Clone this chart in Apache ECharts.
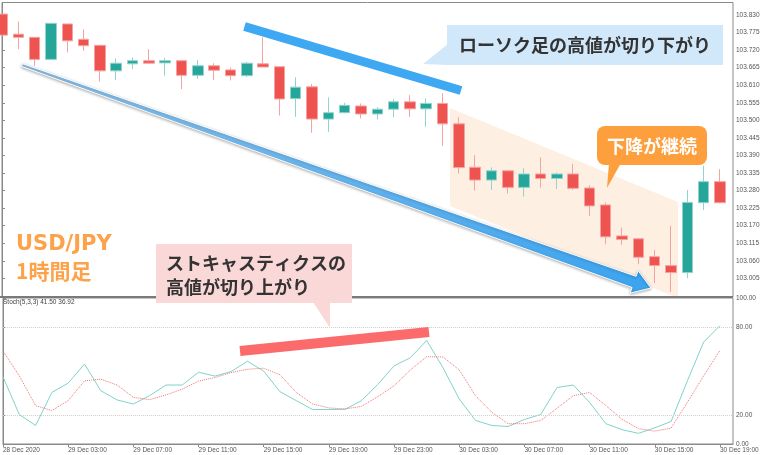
<!DOCTYPE html>
<html>
<head>
<meta charset="utf-8">
<script src="https://cdn.jsdelivr.net/npm/echarts@6/dist/echarts.min.js"></script>
<style>
  html, body { margin: 0; padding: 0; background: #fff; }
  #chart { width: 768px; height: 455px; }
</style>
</head>
<body>
<div id="chart"></div>
<script>
// USD/JPY 1時間足  28 Dec 23:00 〜 30 Dec 19:00
var opens = [103.833,103.770,103.760,103.691,103.802,103.754,103.735,103.655,103.677,103.687,
  103.680,103.687,103.641,103.671,103.658,103.640,103.677,103.668,103.568,103.605,
  103.504,103.524,103.545,103.520,103.535,103.558,103.536,103.553,103.489,103.353,
  103.313,103.342,103.290,103.332,103.318,103.332,103.288,103.235,103.138,103.129,
  103.073,103.045,103.023,103.242,103.308];
var closes = [103.767,103.760,103.691,103.804,103.749,103.734,103.655,103.679,103.687,103.679,
  103.687,103.641,103.671,103.657,103.640,103.679,103.667,103.567,103.604,103.504,
  103.524,103.547,103.520,103.535,103.558,103.536,103.553,103.489,103.352,103.313,
  103.342,103.290,103.332,103.318,103.332,103.287,103.232,103.135,103.127,103.071,
  103.045,103.023,103.243,103.308,103.242];
var lows = [103.767,103.723,103.671,103.691,103.713,103.718,103.621,103.626,103.661,103.679,
  103.640,103.598,103.630,103.626,103.625,103.635,103.667,103.515,103.511,103.461,
  103.464,103.522,103.506,103.503,103.510,103.511,103.480,103.420,103.334,103.280,
  103.282,103.271,103.261,103.289,103.285,103.282,103.201,103.112,103.110,103.049,
  102.990,102.962,103.005,103.219,103.240];
var highs = [103.833,103.810,103.760,103.804,103.802,103.785,103.737,103.694,103.697,103.723,
  103.696,103.687,103.689,103.679,103.666,103.683,103.760,103.668,103.635,103.614,
  103.572,103.555,103.553,103.541,103.567,103.579,103.569,103.585,103.510,103.391,
  103.353,103.342,103.350,103.384,103.337,103.363,103.297,103.243,103.164,103.132,
  103.094,103.170,103.282,103.358,103.347];

// Stoch(5,3,3)
var stochK = [46.0,20.2,12.7,35.3,41.7,54.8,36.5,30.2,27.4,33.1,
  40.4,40.4,49.2,46.5,49.6,56.7,49.9,35.8,29.7,23.6,
  23.6,23.8,29.7,40.8,53.5,59.1,70.9,52.3,30.8,16.1,
  12.7,12.0,16.8,20.2,38.7,40.4,28.5,13.9,9.8,7.3,
  11.1,15.4,43.3,69.8,81.1];
var stochD = [63.7,46.7,26.3,22.9,29.7,43.3,44.4,40.4,31.9,30.4,
  33.6,37.6,43.1,45.5,48.9,51.2,51.9,47.4,35.3,27.4,
  24.7,24.0,25.8,32.4,39.9,50.7,59.8,59.6,50.7,33.1,
  21.7,13.9,13.9,16.1,24.5,33.1,35.3,26.3,16.8,10.5,
  8.8,10.9,28.5,46.7,64.1];

var timeLabels = ['28 Dec 2020','29 Dec 03:00','29 Dec 07:00','29 Dec 11:00','29 Dec 15:00','29 Dec 19:00',
  '29 Dec 23:00','30 Dec 03:00','30 Dec 07:00','30 Dec 11:00','30 Dec 15:00','30 Dec 19:00'];
var timeTicks = [0,4,8,12,16,20,24,28,32,36,40,44];
var priceTicks = [103.830,103.775,103.720,103.665,103.610,103.555,103.500,103.445,103.390,
  103.335,103.280,103.225,103.170,103.115,103.060,103.005];
var stochTicks = [100,80,20,0];
var stochLevels = [80,20];

var candles = opens.map(function (o, i) { return [i, o, closes[i], lows[i], highs[i]]; });
var kLine = stochK.map(function (v, i) { return [i, v]; });
var dLine = stochD.map(function (v, i) { return [i, v]; });

var axisFont = { fontFamily: 'Liberation Sans', fontSize: 6.5, color: '#555' };
var jp = '"Noto Sans CJK JP", sans-serif';

var chart = echarts.init(document.getElementById('chart'));
chart.setOption({
  animation: false,
  backgroundColor: '#fff',
  grid: [
    { left: 2, right: 35, top: 2.5, bottom: 158, show: true, borderColor: '#8a8a8a', borderWidth: 1 },
    { left: 2, right: 35, top: 298, bottom: 11, show: true, borderColor: '#8a8a8a', borderWidth: 1 }
  ],
  xAxis: [
    { gridIndex: 0, type: 'value', min: 0, max: 44.8,
      axisLine: { show: false }, axisTick: { show: false }, axisLabel: { show: false }, splitLine: { show: false } },
    { gridIndex: 1, type: 'value', min: 0, max: 44.8,
      axisLine: { show: true, lineStyle: { color: '#8a8a8a' } },
      axisTick: { show: true, length: 3, customValues: timeTicks, lineStyle: { color: '#8a8a8a' } },
      axisLabel: Object.assign({ customValues: timeTicks, align: 'left', margin: 3,
        formatter: function (v) { return timeLabels[timeTicks.indexOf(v)] || ''; } }, axisFont),
      splitLine: { show: false } }
  ],
  yAxis: [
    { gridIndex: 0, type: 'value', position: 'right', min: 102.9466, max: 103.8692, scale: true,
      axisLine: { show: true, lineStyle: { color: '#8a8a8a' } },
      axisTick: { show: true, length: 3, customValues: priceTicks, lineStyle: { color: '#8a8a8a' } },
      axisLabel: Object.assign({ customValues: priceTicks, margin: 3,
        formatter: function (v) { return v.toFixed(3); } }, axisFont),
      splitLine: { show: false } },
    { gridIndex: 1, type: 'value', position: 'right', min: 0, max: 100,
      axisLine: { show: true, lineStyle: { color: '#8a8a8a' } },
      axisTick: { show: true, length: 3, customValues: stochTicks, lineStyle: { color: '#8a8a8a' } },
      axisLabel: Object.assign({ customValues: stochTicks, margin: 3,
        formatter: function (v) { return v.toFixed(2); } }, axisFont),
      splitLine: { show: false } }
  ],
  series: [
    { type: 'candlestick', xAxisIndex: 0, yAxisIndex: 0, data: candles, barWidth: 11,
      encode: { x: 0, y: [1, 2, 3, 4] },
      itemStyle: { color: '#26a69a', color0: '#ef5350', borderColor: '#92d4cd', borderColor0: '#f5a3a2', borderWidth: 1 } },
    { type: 'line', xAxisIndex: 1, yAxisIndex: 1, data: kLine, symbol: 'none',
      lineStyle: { color: '#7fd3cb', width: 1 },
      markLine: { silent: true, symbol: 'none', label: { show: false },
        lineStyle: { color: '#d0d0d0', type: 'dotted', width: 1 },
        data: stochLevels.map(function (v) { return { yAxis: v }; }) } },
    { type: 'line', xAxisIndex: 1, yAxisIndex: 1, data: dLine, symbol: 'none',
      lineStyle: { color: '#f47272', width: 1, type: 'dotted' } }
  ],
  graphic: [
    // 下降チャネル
    { type: 'polygon', z: 0, silent: true,
      shape: { points: [[450,108],[678,202],[678,298],[450,206]] },
      style: { fill: '#fdefe2' } },
    { type: 'line', z: 50, shape: { x1: 0, y1: 297, x2: 733, y2: 297 },
      style: { stroke: '#7a7a7a', lineWidth: 2 } },
    { type: 'text', z: 50, left: 3, top: 299,
      style: { text: 'Stoch(5,3,3) 41.50 36.92', font: '6.5px "Liberation Sans"', fill: '#444' } },
    // 高値切り下がりライン
    { type: 'line', z: 60, shape: { x1: 244.5, y1: 26.5, x2: 461, y2: 90.5 },
      style: { stroke: '#3fa8f3', lineWidth: 9 } },
    // 下降矢印
    { type: 'polygon', z: 60,
      shape: { points: [[22.5,63.6],[636.1,276.3],[638.1,270.6],[651,288],[630.1,293.2],[632.1,287.5],[21.5,66.4]] },
      style: { fill: new echarts.graphic.LinearGradient(0, 0, 1, 0, [
          { offset: 0, color: '#8fc3ea' }, { offset: 1, color: '#3ba3ef' }]),
        stroke: '#fff', lineWidth: 1, shadowBlur: 3, shadowColor: 'rgba(0,0,0,0.3)', shadowOffsetY: 1 } },
    // ストキャス高値切り上がり
    { type: 'line', z: 60, shape: { x1: 240, y1: 351, x2: 429, y2: 332 },
      style: { stroke: '#fb6b6b', lineWidth: 10 } },
    // 吹き出し(青)
    { type: 'polygon', z: 70, shape: { points: [[448,44],[423,64],[448,65]] }, style: { fill: '#d0e8f9' } },
    { type: 'rect', z: 70, shape: { x: 447, y: 25, width: 276, height: 40 }, style: { fill: '#d0e8f9' } },
    { type: 'text', z: 71, x: 585, y: 45,
      style: { text: 'ローソク足の高値が切り下がり', font: 'bold 18px ' + jp, fill: '#333', align: 'center', verticalAlign: 'middle' } },
    // 吹き出し(オレンジ)
    { type: 'polygon', z: 70, shape: { points: [[609,163],[621,163],[607,188]] }, style: { fill: '#fe9f3e' } },
    { type: 'rect', z: 70, shape: { x: 597, y: 126, width: 110, height: 39, r: 8 }, style: { fill: '#fe9f3e' } },
    { type: 'text', z: 71, x: 652, y: 146,
      style: { text: '下降が継続', font: 'bold 18px ' + jp, fill: '#fff', align: 'center', verticalAlign: 'middle' } },
    // 吹き出し(ピンク)
    { type: 'polygon', z: 70, shape: { points: [[313,302],[330,302],[330,328]] }, style: { fill: '#fbd8d8' } },
    { type: 'rect', z: 70, shape: { x: 156, y: 244, width: 196, height: 59 }, style: { fill: '#fbd8d8' } },
    { type: 'text', z: 71, x: 166, y: 263,
      style: { text: 'ストキャスティクスの', font: 'bold 18px ' + jp, fill: '#333', verticalAlign: 'middle' } },
    { type: 'text', z: 71, x: 166, y: 287,
      style: { text: '高値が切り上がり', font: 'bold 18px ' + jp, fill: '#333', verticalAlign: 'middle' } },
    // 通貨ペア
    { type: 'text', z: 71, x: 16, y: 245,
      style: { text: 'USD/JPY', font: 'bold 21px "DejaVu Sans"', fill: '#fea24a', verticalAlign: 'middle' } },
    { type: 'text', z: 71, x: 16, y: 271,
      style: { text: '1時間足', font: 'bold 21px ' + jp, fill: '#fea24a', verticalAlign: 'middle' } }
  ]
});
</script>
</body>
</html>
